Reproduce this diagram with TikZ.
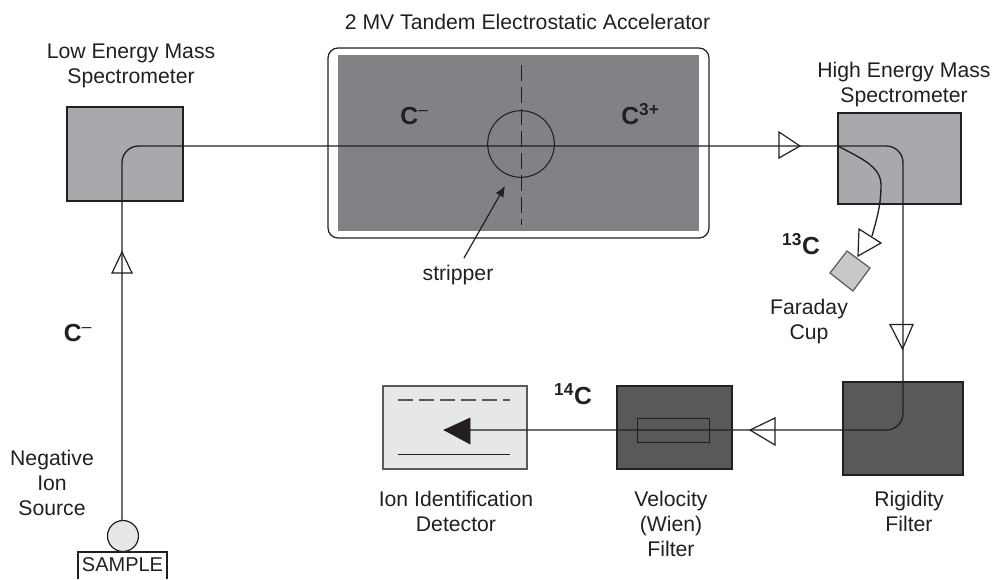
\documentclass[tikz,border=0pt]{standalone}
\usepackage{fontspec}
\usetikzlibrary{arrows.meta}
\setmainfont{Liberation Sans}
\definecolor{ink}{HTML}{231F20}
\definecolor{midg}{HTML}{A7A9AC}
\definecolor{accg}{HTML}{808285}
\definecolor{darkg}{HTML}{58595B}
\definecolor{lightg}{HTML}{E6E7E8}
\definecolor{cupg}{HTML}{C7C8CA}
\newcommand{\minusup}{\textsuperscript{\fontseries{m}\selectfont --}}
\tikzset{
 px/.style={x=0.75pt,y=-0.75pt},
 block/.style={draw=ink,line width=0.9pt,inner sep=0,outer sep=0},
 beam/.style={draw=ink,line width=1pt},
 head/.style={draw=ink,line width=0.9pt},
 lbl/.style={text=ink,font=\fontsize{15.9}{18.75}\selectfont,align=center,inner sep=0},
 iso/.style={text=ink,font=\fontsize{18.5}{22}\selectfont\bfseries,inner sep=0,anchor=base},
}
\begin{document}
\begin{tikzpicture}[px]
\useasboundingbox (0,0) rectangle (993,579);
% boxes
\node[block,fill=midg,minimum width=87pt,minimum height=70.5pt] (low) at (125,154) {};
\node[block,fill=midg,minimum width=92.25pt,minimum height=68.25pt] (high) at (899.5,158.5) {};
\node[block,fill=darkg,minimum width=90pt,minimum height=69.75pt] (rigid) at (903,428.5) {};
\node[block,fill=darkg,minimum width=86.25pt,minimum height=62.25pt] (wien) at (674.5,427.5) {};
\node[block,fill=lightg,draw=darkg,minimum width=108pt,minimum height=62.25pt] (det) at (455,427.5) {};
\node[block,rounded corners=7.5pt,minimum width=285.75pt,minimum height=142.5pt] (acc) at (518.5,143) {};
\node[inner sep=0,outer sep=0,fill=accg,minimum width=270.75pt,minimum height=132pt] (accin) at (518.5,143) {};
\node[block,minimum width=54pt,minimum height=18pt,fill=none] (wienin) at (673.5,430.5) {};
% plates
\coordinate (pa) at (398,400); \coordinate (pb) at (510,400);
\coordinate (pc) at (398,454.5); \coordinate (pd) at (510,454.5);
\draw[darkg,line width=1pt,dash pattern=on 11.25pt off 4.5pt] (pa) -- (pb);
\draw[ink,line width=1pt] (pc) -- (pd);
% stripper
\coordinate (sa) at (521,65); \coordinate (sb) at (521,225);
\draw[ink,line width=0.7pt,dash pattern=on 12pt off 4.5pt] (sa) -- (sb);
\node[draw=ink,circle,line width=0.8pt,minimum size=50pt,inner sep=0,outer sep=0] (strip) at (521,144) {};
% coordinates of the beam
\coordinate (b0) at (122,524);
\coordinate (b1) at (122,146);
\coordinate (b2) at (903,146);
\coordinate (b3) at (903,430);
\coordinate (b4) at (444,430);
\draw[beam,rounded corners=12.5pt] (b0) -- (b1) -- (b2) -- (b3) -- (b4);
% beam heads
\draw[head] (112,273) -- (132,273) -- (122,252) -- cycle;
\draw[head] (779,132) -- (779,158) -- (800,146) -- cycle;
\draw[head] (890,324.5) -- (913,324.5) -- (902.5,349) -- cycle;
\draw[head] (750,430) -- (775,418) -- (775,445) -- cycle;
\draw[fill=ink,draw=ink] (444,430) -- (470,418) -- (470,444) -- cycle;
% 13C branch
\coordinate (c0) at (838,146);
\coordinate (c1) at (872,236);
\draw[beam] (c0) .. controls (860,158) and (881,166) .. (881,185) .. controls (881,205) and (877,218) .. (c1);
\draw[head,fill=white] (859,229) -- (858,256) -- (881,243) -- cycle;
\draw[block,fill=cupg,draw=darkg] (847,251) -- (870,268) -- (853,291) -- (830,273) -- cycle;
% source
\node[draw=ink,circle,fill=lightg,line width=0.9pt,minimum size=23.25pt,inner sep=0,outer sep=0] (ion) at (123,536) {};
\coordinate (s1) at (78,579); \coordinate (s2) at (78,552); \coordinate (s3) at (167,552); \coordinate (s4) at (167,579);
\draw[ink,line width=0.9pt] (s1) -- (s2) -- (s3) -- (s4);
\node[lbl,font=\fontsize{15}{18}\selectfont] (sample) at (122.5,565) {SAMPLE};
% stripper pointer
\coordinate (pt) at (505,186);
\coordinate (pf) at (464,258);
\draw[ink,line width=0.9pt,-{Latex[length=8pt,width=7pt]}] (pf) -- (pt);
% labels
\node[lbl] (t1) at (131,65.5) {Low Energy Mass\\Spectrometer};
\node[lbl] (t2) at (527.5,22) {2 MV Tandem Electrostatic Accelerator};
\node[lbl] (t3) at (904,85) {High Energy Mass\\Spectrometer};
\node[lbl] (t4) at (458,275) {stripper};
\node[lbl] (t5) at (809,322) {Faraday\\Cup};
\node[lbl] (t6) at (52,483) {Negative\\Ion\\Source};
\node[lbl] (t7) at (456,511) {Ion Identification\\Detector};
\node[lbl] (t8) at (671,524) {Velocity\\(Wien)\\Filter};
\node[lbl] (t9) at (909,511) {Rigidity\\Filter};
\node[iso] (i1) at (414.5,124) {C\minusup};
\node[iso] (i2) at (640.5,124) {C\textsuperscript{3+}};
\node[iso] (i3) at (78,341) {C\minusup};
\node[iso] (i4) at (801,254) {\textsuperscript{13}C};
\node[iso] (i5) at (573,404) {\textsuperscript{14}C};
\end{tikzpicture}
\end{document}
